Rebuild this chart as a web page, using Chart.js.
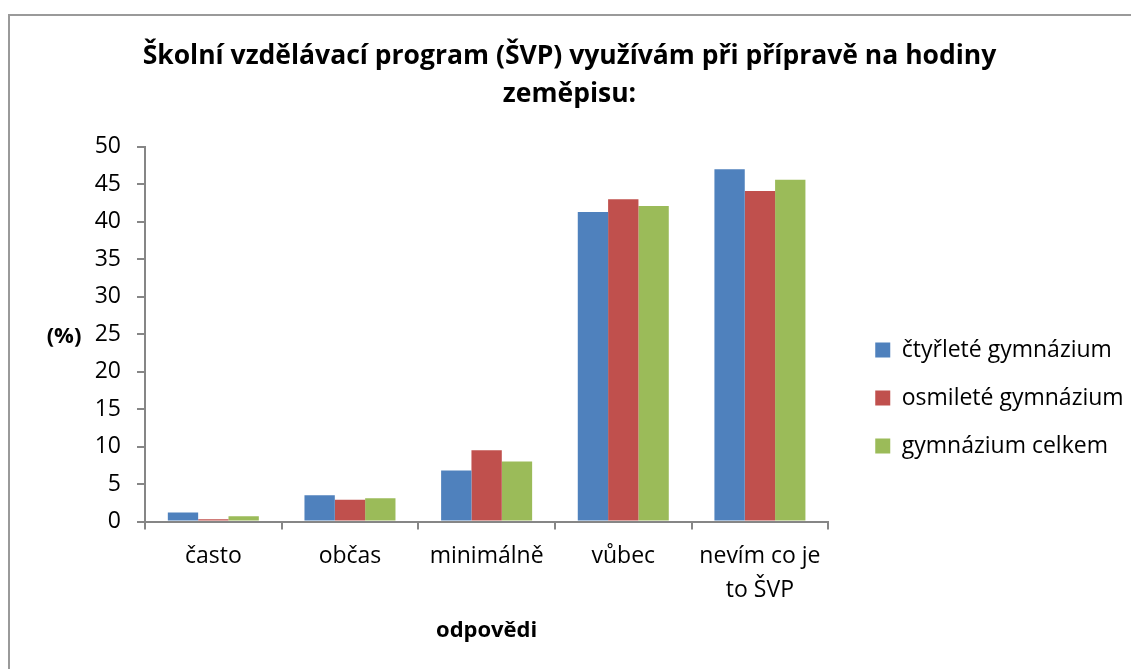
<!DOCTYPE html>
<html>
<head>
<meta charset="utf-8">
<script src="https://cdn.jsdelivr.net/npm/chart.js@4"></script>
<style>
  html, body { margin: 0; padding: 0; background: #fff; }
  #wrap { width: 1131px; height: 669px; position: relative; }
</style>
</head>
<body>
<div id="wrap"><canvas id="chart" width="1131" height="669"></canvas></div>
<script>
const categories = ['často', 'občas', 'minimálně', 'vůbec', ['nevím co je', 'to ŠVP']];
const seriesNames = ['čtyřleté gymnázium', 'osmileté gymnázium', 'gymnázium celkem'];
const ctyrlete = [1.2, 3.5, 6.8, 41.3, 47.0];
const osmilete = [0.3, 2.9, 9.5, 43.0, 44.1];
const celkem = [0.7, 3.1, 8.0, 42.1, 45.6];
const colors = ['#4F81BD', '#C0504D', '#9BBB59'];

const FONT = '"Open Sans", sans-serif';
const AXIS = '#868686';

// frame round the chart + the horizontal "(%)" label
const extras = {
  id: 'extras',
  beforeDraw(chart) {
    const c = chart.ctx;
    c.save();
    c.strokeStyle = '#9a9a9a';
    c.lineWidth = 2;
    c.beginPath();
    c.moveTo(9, 700);
    c.lineTo(9, 15);
    c.lineTo(1200, 15);
    c.stroke();
    c.restore();
  },
  afterDraw(chart) {
    const a = chart.chartArea;
    const c = chart.ctx;
    c.save();
    c.font = 'bold 22px ' + FONT;
    c.fillStyle = '#000';
    c.textAlign = 'center';
    c.textBaseline = 'middle';
    c.fillText('(%)', 64, (a.top + a.bottom) / 2 + 3);
    c.restore();
  }
};

new Chart(document.getElementById('chart'), {
  type: 'bar',
  data: {
    labels: categories,
    datasets: [
      { label: seriesNames[0], data: ctyrlete, backgroundColor: colors[0] },
      { label: seriesNames[1], data: osmilete, backgroundColor: colors[1] },
      { label: seriesNames[2], data: celkem, backgroundColor: colors[2] }
    ]
  },
  options: {
    responsive: false,
    animation: false,
    layout: { padding: { left: 8, top: 14, right: 0, bottom: 0 } },
    datasets: { bar: { barPercentage: 1, categoryPercentage: 0.666 } },
    plugins: {
      title: {
        display: true,
        text: ['Školní vzdělávací program (ŠVP) využívám při přípravě na hodiny', 'zeměpisu:'],
        color: '#000',
        font: { family: FONT, size: 26.5, weight: 'bold', lineHeight: 1.43 },
        padding: { top: 24, bottom: 33 }
      },
      legend: {
        position: 'right',
        // empty title only pushes the items down to the middle of the frame
        title: { display: true, text: '', font: { size: 12, lineHeight: 1 }, padding: { top: 0, bottom: 101 } },
        labels: {
          boxWidth: 15,
          boxHeight: 15,
          padding: 25,
          color: '#000',
          font: { family: FONT, size: 23 }
        }
      },
      tooltip: { enabled: false }
    },
    scales: {
      x: {
        grid: { display: true, drawOnChartArea: false, drawTicks: true, tickLength: 8, color: AXIS, lineWidth: 2, offset: true },
        border: { display: true, color: AXIS, width: 2 },
        ticks: { color: '#000', padding: 10, maxRotation: 0, font: { family: FONT, size: 23, lineHeight: 1.48 } },
        title: {
          display: true,
          text: 'odpovědi',
          color: '#000',
          font: { family: FONT, size: 22, weight: 'bold', lineHeight: 1.2 },
          padding: { top: 0, bottom: 25 }
        }
      },
      y: {
        min: 0,
        max: 50,
        grid: { display: true, drawOnChartArea: false, drawTicks: true, tickLength: 8, color: AXIS, lineWidth: 2 },
        border: { display: true, color: AXIS, width: 2 },
        ticks: { stepSize: 5, color: '#000', padding: 16, font: { family: FONT, size: 23 } },
        afterFit(scale) { scale.width = 137; }
      },
      // hidden spacer between plot and legend
      gap: {
        position: 'right',
        display: false,
        afterFit(scale) { scale.width = 22; }
      }
    }
  },
  plugins: [extras]
});
</script>
</body>
</html>
